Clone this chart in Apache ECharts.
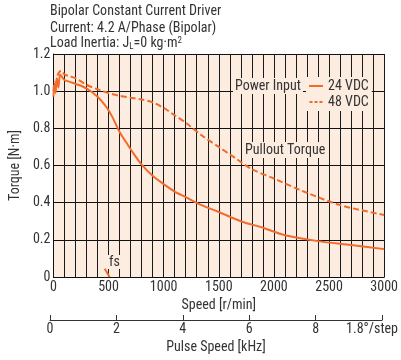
<!DOCTYPE html>
<html><head><meta charset="utf-8">
<script src="https://cdn.jsdelivr.net/npm/echarts@6/dist/echarts.min.js"></script>
<style>html,body{margin:0;padding:0;background:#fff}#c{width:401px;height:360px}</style>
</head><body><div id="c"></div>
<script>
const speed24 = [0, 10, 20, 30, 45, 60, 75, 100, 150, 200, 300, 400, 480, 540, 600, 660, 720, 800, 900, 1000, 1100, 1200, 1350, 1500, 1700, 1900, 2100, 2400, 2700, 3000];
const torque24 = [0.97, 1.04, 0.99, 1.07, 1.02, 1.09, 1.08, 1.06, 1.05, 1.04, 1.015, 0.97, 0.915, 0.855, 0.78, 0.725, 0.67, 0.605, 0.545, 0.5, 0.46, 0.43, 0.385, 0.35, 0.30, 0.265, 0.225, 0.193, 0.172, 0.15];
const speed48 = [0, 10, 20, 35, 50, 70, 100, 150, 200, 300, 400, 500, 600, 700, 800, 900, 1000, 1100, 1200, 1350, 1500, 1650, 1800, 2000, 2250, 2600, 3000];
const torque48 = [1.0, 1.05, 1.02, 1.08, 1.10, 1.11, 1.09, 1.08, 1.07, 1.035, 1.01, 0.99, 0.975, 0.965, 0.955, 0.94, 0.91, 0.87, 0.83, 0.76, 0.70, 0.64, 0.58, 0.53, 0.465, 0.387, 0.334];
const fsSpeed = [465, 510];
const fsTorque = [0.045, 0];
const pulseTicks = [0, 2, 4, 6, 8, 10];
const titleLines = ['Bipolar Constant Current Driver', 'Current: 4.2 A/Phase (Bipolar)'];

const FONT = "'Liberation Sans Narrow', 'Arial Narrow', 'Roboto Condensed', 'Liberation Sans', sans-serif";
const ORANGE = '#f26b2b';
const BG = '#fdede1';
const TXT = '#333';
const zip = (a, b) => a.map((v, i) => [v, b[i]]);

const chart = echarts.init(document.getElementById('c'), null, {renderer: 'canvas'});
chart.setOption({
  animation: false,
  textStyle: {fontFamily: FONT},
  grid: [
    {left: 50, right: 16, top: 54, height: 223, show: true, backgroundColor: BG, borderWidth: 0},
    {left: 50, right: 16, top: 319, height: 1, show: false}
  ],
  xAxis: [
    {gridIndex: 0, type: 'value', min: 0, max: 3000, interval: 500,
     name: 'Speed [r/min]', nameLocation: 'middle', nameGap: 18,
     nameTextStyle: {color: TXT, fontSize: 14, fontFamily: FONT},
     axisLine: {show: true, lineStyle: {color: '#111', width: 1}},
     axisTick: {show: false},
     axisLabel: {color: TXT, fontSize: 14, fontFamily: FONT, margin: 3, formatter: v => String(v)},
     splitLine: {show: true, lineStyle: {color: '#1a1a1a', width: 1}},
     minorTick: {show: false, splitNumber: 5},
     minorSplitLine: {show: true, lineStyle: {color: '#1a1a1a', width: 1}}},
    {gridIndex: 1, type: 'value', min: 0, max: 10, interval: 2,
     name: 'Pulse Speed [kHz]', nameLocation: 'middle', nameGap: 20,
     nameTextStyle: {color: TXT, fontSize: 14, fontFamily: FONT},
     axisLine: {show: true, onZero: false, lineStyle: {color: '#333', width: 1}},
     axisTick: {show: true, inside: true, length: 5, lineStyle: {color: '#333'}},
     axisLabel: {color: TXT, fontSize: 14, fontFamily: FONT, margin: 2,
       customValues: pulseTicks,
       formatter: v => v === 10 ? '{s|1.8°/step}' : String(v),
       rich: {s: {fontSize: 14, fontFamily: FONT, color: TXT, padding: [0, 20, 0, 0]}}},
     splitLine: {show: false}}
  ],
  yAxis: [
    {gridIndex: 0, type: 'value', min: 0, max: 1.2, interval: 0.2,
     name: 'Torque [N·m]', nameLocation: 'middle', nameGap: 30, nameRotate: 90,
     nameTextStyle: {color: TXT, fontSize: 14, fontFamily: FONT},
     axisLine: {show: true, lineStyle: {color: '#111'}},
     axisTick: {show: false},
     axisLabel: {color: TXT, fontSize: 14, fontFamily: FONT, margin: 3,
       formatter: v => v === 0 ? '0' : v.toFixed(1)},
     splitLine: {show: true, lineStyle: {color: '#111', width: 1}}},
    {gridIndex: 1, type: 'value', show: false}
  ],
  legend: {
    orient: 'vertical', left: 306, top: 77, itemWidth: 14, itemHeight: 2, itemGap: 2,
    backgroundColor: BG, padding: [2, 3, 2, 3],
    textStyle: {color: TXT, fontSize: 14, fontFamily: FONT},
    data: [
      {name: '24 VDC', icon: 'path://M0,0h14v2h-14z', itemStyle: {color: ORANGE}},
      {name: '48 VDC', icon: 'path://M0,0h3v2h-3z M5,0h3v2h-3z M10,0h3v2h-3z', itemStyle: {color: ORANGE}}
    ]
  },
  series: [
    {name: '24 VDC', type: 'line', xAxisIndex: 0, yAxisIndex: 0, data: zip(speed24, torque24),
     symbol: 'none', smooth: 0.3, lineStyle: {color: ORANGE, width: 2}, itemStyle: {color: ORANGE}, z: 5},
    {name: '48 VDC', type: 'line', xAxisIndex: 0, yAxisIndex: 0, data: zip(speed48, torque48),
     symbol: 'none', smooth: 0.3, lineStyle: {color: ORANGE, width: 2, type: [6, 3]}, itemStyle: {color: ORANGE}, z: 5},
    {name: 'fs', type: 'line', xAxisIndex: 0, yAxisIndex: 0, data: zip(fsSpeed, fsTorque),
     symbol: 'none', lineStyle: {color: ORANGE, width: 2}, z: 5}
  ],
  graphic: [
    {type: 'text', left: 50, top: 4, style: {text: titleLines[0], fontSize: 14, fontFamily: FONT, fill: TXT}},
    {type: 'text', left: 50, top: 21, style: {text: titleLines[1], fontSize: 14, fontFamily: FONT, fill: TXT}},
    {type: 'text', left: 50, top: 36, style: {
      text: 'Load Inertia: J{sub|L}=0 kg·m{sup|2}', fontSize: 14, fontFamily: FONT, fill: TXT,
      rich: {sub: {fontSize: 9, fontFamily: FONT, fill: TXT, verticalAlign: 'bottom', padding: [6, 0, 0, 0]},
             sup: {fontSize: 9, fontFamily: FONT, fill: TXT, verticalAlign: 'top', padding: [0, 0, 6, 0]}}}},
    {type: 'text', left: 233, top: 78, z: 10, style: {text: 'Power Input', fontSize: 14, fontFamily: FONT, fill: TXT,
      backgroundColor: BG, padding: [1, 2, 1, 2]}},
    {type: 'text', left: 243, top: 142, z: 10, style: {text: 'Pullout Torque', fontSize: 14, fontFamily: FONT, fill: TXT,
      backgroundColor: BG, padding: [1, 2, 1, 2]}},
    {type: 'text', left: 108, top: 255, z: 10, style: {text: 'fs', fontSize: 14, fontFamily: FONT, fill: TXT,
      backgroundColor: BG, padding: [0, 1, 0, 1]}}
  ]
});
</script></body></html>
